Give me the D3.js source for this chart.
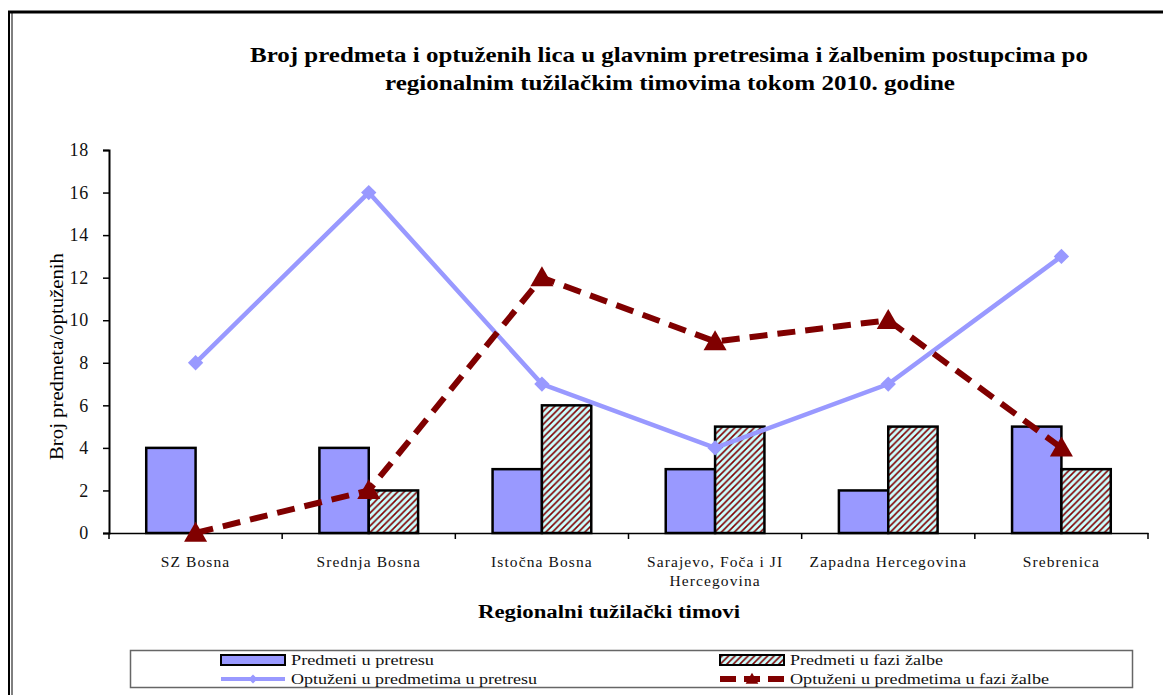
<!DOCTYPE html>
<html>
<head>
<meta charset="utf-8">
<script src="https://cdn.jsdelivr.net/npm/d3@7"></script>
<style>
  body { margin: 0; background: #fff; }
  svg { display: block; }
  svg text { font-family: "Liberation Serif", "Times New Roman", serif; }
</style>
</head>
<body>
<div id="chart"></div>
<script>
const categories = ["SZ Bosna", "Srednja Bosna", "Istočna Bosna", "Sarajevo, Foča i JI Hercegovina", "Zapadna Hercegovina", "Srebrenica"]
const categoryLines = [["SZ Bosna"], ["Srednja Bosna"], ["Istočna Bosna"], ["Sarajevo, Foča i JI", "Hercegovina"], ["Zapadna Hercegovina"], ["Srebrenica"]]
const predmetiPretres = [4, 4, 3, 3, 2, 5]
const predmetiZalba = [0, 2, 6, 5, 5, 3]
const optuzeniPretres = [8, 16, 7, 4, 7, 13]
const optuzeniZalba = [0, 2, 12, 9, 10, 4]
const yTicks = [0, 2, 4, 6, 8, 10, 12, 14, 16, 18]
const seriesNames = ["Predmeti u pretresu", "Predmeti u fazi žalbe", "Optuženi u predmetima u pretresu", "Optuženi u predmetima u fazi žalbe"]

const W = 1163, H = 695
const margin = {top: 150, right: 15, bottom: 162, left: 109}
const w = W - margin.left - margin.right,
      h = H - margin.top - margin.bottom

const blue = "#9999ff", red = "#800000"
const serif = "Liberation Serif, Times New Roman, serif"

const root = d3.select("#chart").append("svg")
    .attr("width", W)
    .attr("height", H)

// hatch pattern for the appeal bars
const defs = root.append("defs")
const pat = defs.append("pattern")
    .attr("id", "hatch")
    .attr("patternUnits", "userSpaceOnUse")
    .attr("width", 6.5)
    .attr("height", 6.5)
pat.append("rect").attr("width", 6.5).attr("height", 6.5).attr("fill", "#ccffff")
pat.append("path")
    .attr("d", "M-1,7.5 L7.5,-1 M-3.25,3.25 L3.25,-3.25 M3.25,9.75 L9.75,3.25")
    .attr("stroke", red)
    .attr("stroke-width", 1.6)

// outer frame
root.append("line").attr("x1", 8).attr("x2", W).attr("y1", 12).attr("y2", 12)
    .attr("stroke", "#000").attr("stroke-width", 3)
root.append("line").attr("x1", 9).attr("x2", 9).attr("y1", 11).attr("y2", H)
    .attr("stroke", "#000").attr("stroke-width", 2)
root.append("line").attr("x1", 12).attr("x2", 12).attr("y1", 11).attr("y2", H)
    .attr("stroke", "#000").attr("stroke-width", 1)

// title
const title = root.append("text")
    .attr("font-family", serif)
    .attr("font-weight", "bold")
    .attr("font-size", 22)
title.append("tspan").attr("x", 250).attr("y", 62)
    .attr("textLength", 838).attr("lengthAdjust", "spacingAndGlyphs")
    .text("Broj predmeta i optuženih lica u glavnim pretresima i žalbenim postupcima po")
title.append("tspan").attr("x", 385).attr("y", 90)
    .attr("textLength", 570).attr("lengthAdjust", "spacingAndGlyphs")
    .text("regionalnim tužilačkim timovima tokom 2010. godine")

const svg = root.append("g")
    .attr("transform", `translate(${margin.left},${margin.top})`)

const x = d3.scaleBand()
    .domain(categories)
    .range([0, w])

const y = d3.scaleLinear()
    .domain([0, 18])
    .range([h, 0])

const barW = x.bandwidth() * 0.285
const cx = d => x(d) + x.bandwidth() / 2

// y axis
const yAxis = svg.append("g")
    .call(d3.axisLeft(y).tickValues(yTicks).tickSize(6).tickPadding(14))
yAxis.attr("font-family", serif)
yAxis.select(".domain").attr("stroke", "#000").attr("stroke-width", 2)
yAxis.selectAll(".tick line").attr("stroke", "#000").attr("stroke-width", 1.5)
yAxis.selectAll(".tick text")
    .attr("font-family", serif)
    .attr("font-size", 18)
    .attr("letter-spacing", 0.8)
    .attr("fill", "#111")

// bars
svg.append("g").selectAll("rect")
    .data(categories)
    .join("rect")
    .attr("x", d => cx(d) - barW)
    .attr("y", (d, i) => y(predmetiPretres[i]))
    .attr("width", barW)
    .attr("height", (d, i) => h - y(predmetiPretres[i]))
    .attr("fill", blue)
    .attr("stroke", "#000")
    .attr("stroke-width", 2.5)

svg.append("g").selectAll("rect")
    .data(categories.filter((d, i) => predmetiZalba[i] > 0))
    .join("rect")
    .attr("x", d => cx(d))
    .attr("y", d => y(predmetiZalba[categories.indexOf(d)]))
    .attr("width", barW)
    .attr("height", d => h - y(predmetiZalba[categories.indexOf(d)]))
    .attr("fill", "url(#hatch)")
    .attr("stroke", "#000")
    .attr("stroke-width", 2.5)

// x axis
const xAxis = svg.append("g")
    .attr("transform", `translate(0,${h})`)
    .call(d3.axisBottom(x).tickSize(0).tickFormat(""))
xAxis.select(".domain").attr("stroke", "#000").attr("stroke-width", 1.5)
svg.append("g").selectAll("line")
    .data(d3.range(categories.length + 1))
    .join("line")
    .attr("x1", i => i * x.step())
    .attr("x2", i => i * x.step())
    .attr("y1", h)
    .attr("y2", h + 6)
    .attr("stroke", "#000")
    .attr("stroke-width", 1.5)

svg.append("g").selectAll("text")
    .data(categories)
    .join("text")
    .attr("text-anchor", "middle")
    .attr("font-family", serif)
    .attr("font-size", 15.5)
    .attr("fill", "#111")
    .attr("letter-spacing", 1.1)
    .each(function(d, i) {
        d3.select(this).selectAll("tspan")
            .data(categoryLines[i])
            .join("tspan")
            .attr("x", cx(d))
            .attr("y", (t, j) => h + 34 + j * 19)
            .text(t => t)
    })

// lines
const line = d3.line()
    .x((d, i) => cx(categories[i]))
    .y(d => y(d))

svg.append("path")
    .datum(optuzeniPretres)
    .attr("d", line)
    .attr("fill", "none")
    .attr("stroke", blue)
    .attr("stroke-width", 4.5)

svg.append("g").selectAll("path")
    .data(optuzeniPretres)
    .join("path")
    .attr("transform", (d, i) => `translate(${cx(categories[i])},${y(d)})`)
    .attr("d", d3.symbol(d3.symbolDiamond2, 150))
    .attr("fill", blue)

svg.append("path")
    .datum(optuzeniZalba)
    .attr("d", line)
    .attr("fill", "none")
    .attr("stroke", red)
    .attr("stroke-width", 6)
    .attr("stroke-dasharray", "18,10")

svg.append("g").selectAll("path")
    .data(optuzeniZalba)
    .join("path")
    .attr("transform", (d, i) => `translate(${cx(categories[i])},${y(d) + 2})`)
    .attr("d", d3.symbol(d3.symbolTriangle, 230))
    .attr("fill", red)

// axis titles
root.append("text")
    .attr("transform", `translate(63,460) rotate(-90)`)
    .attr("font-family", serif)
    .attr("font-size", 19)
    .attr("textLength", 207)
    .attr("lengthAdjust", "spacingAndGlyphs")
    .text("Broj predmeta/optuženih")

root.append("text")
    .attr("x", 478)
    .attr("y", 618)
    .attr("font-family", serif)
    .attr("font-weight", "bold")
    .attr("font-size", 18)
    .attr("textLength", 262)
    .attr("lengthAdjust", "spacingAndGlyphs")
    .text("Regionalni tužilački timovi")

// legend
const lg = root.append("g")
lg.append("rect")
    .attr("x", 130.5).attr("y", 650.5)
    .attr("width", 1002).attr("height", 37)
    .attr("fill", "#fff")
    .attr("stroke", "#666")
    .attr("stroke-width", 1.5)

const legendPos = [[221, 660], [720, 660], [221, 679], [720, 679]]
const legendLen = [143, 153, 246, 259]
const sw = 64

lg.append("rect").attr("x", legendPos[0][0]).attr("y", legendPos[0][1] - 5)
    .attr("width", sw).attr("height", 10)
    .attr("fill", blue).attr("stroke", "#000").attr("stroke-width", 2)
lg.append("rect").attr("x", legendPos[1][0]).attr("y", legendPos[1][1] - 5)
    .attr("width", sw).attr("height", 10)
    .attr("fill", "url(#hatch)").attr("stroke", "#000").attr("stroke-width", 2)
lg.append("line")
    .attr("x1", legendPos[2][0]).attr("x2", legendPos[2][0] + sw)
    .attr("y1", legendPos[2][1]).attr("y2", legendPos[2][1])
    .attr("stroke", blue).attr("stroke-width", 4)
lg.append("path")
    .attr("transform", `translate(${legendPos[2][0] + sw / 2},${legendPos[2][1]})`)
    .attr("d", d3.symbol(d3.symbolDiamond2, 50))
    .attr("fill", blue)
lg.append("line")
    .attr("x1", legendPos[3][0]).attr("x2", legendPos[3][0] + sw)
    .attr("y1", legendPos[3][1]).attr("y2", legendPos[3][1])
    .attr("stroke", red).attr("stroke-width", 6)
    .attr("stroke-dasharray", "16,8")
lg.append("path")
    .attr("transform", `translate(${legendPos[3][0] + sw / 2},${legendPos[3][1] + 1})`)
    .attr("d", d3.symbol(d3.symbolTriangle, 70))
    .attr("fill", red)

lg.selectAll("text.leg")
    .data(seriesNames)
    .join("text")
    .attr("class", "leg")
    .attr("x", (d, i) => legendPos[i][0] + sw + 6)
    .attr("y", (d, i) => legendPos[i][1] + 5)
    .attr("font-family", serif)
    .attr("font-size", 15.5)
    .attr("textLength", (d, i) => legendLen[i])
    .attr("lengthAdjust", "spacingAndGlyphs")
    .attr("fill", "#111")
    .text(d => d)
</script>
</body>
</html>
